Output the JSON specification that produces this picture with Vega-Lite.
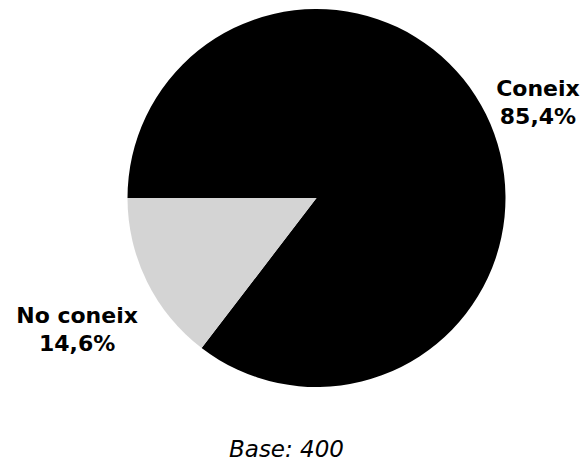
{
  "$schema": "https://vega.github.io/schema/vega-lite/v6.json",
  "autosize": {"type": "none"},
  "width": 535,
  "height": 396,
  "padding": {"left": 49, "top": 0, "right": 0, "bottom": 68},
  "background": "white",
  "config": {"view": {"stroke": null}},
  "title": {
    "text": "Base: 400",
    "orient": "bottom",
    "anchor": "middle",
    "font": "DejaVu Sans",
    "fontStyle": "italic",
    "fontWeight": "normal",
    "fontSize": 23,
    "color": "black",
    "baseline": "alphabetic",
    "offset": 61,
    "dx": -30
  },
  "data": {
    "values": [
      {"cat": "Coneix", "pct": 85.4, "label": "Coneix\n85,4%", "order": 1},
      {"cat": "No coneix", "pct": 14.6, "label": "No coneix\n14,6%", "order": 2}
    ]
  },
  "encoding": {
    "theta": {"field": "pct", "type": "quantitative", "stack": true, "scale": {"range": [-1.5707963, 4.712389]}},
    "order": {"field": "order", "type": "quantitative"}
  },
  "layer": [
    {
      "mark": {"type": "arc", "outerRadius": 189, "stroke": null},
      "encoding": {
        "color": {"field": "cat", "type": "nominal", "scale": {"domain": ["Coneix", "No coneix"], "range": ["#000000", "#d4d4d4"]}, "legend": null}
      }
    },
    {
      "mark": {"type": "text", "radius": 247, "font": "DejaVu Sans", "fontWeight": "bold", "fontSize": 22, "lineBreak": "\n", "lineHeight": 28, "align": "center", "baseline": "middle", "color": "black"},
      "encoding": {
        "text": {"condition": {"test": "datum.cat == 'Coneix'", "field": "label"}, "value": ""}
      }
    },
    {
      "mark": {"type": "text", "radius": 267, "font": "DejaVu Sans", "fontWeight": "bold", "fontSize": 22, "lineBreak": "\n", "lineHeight": 28, "align": "center", "baseline": "middle", "color": "black"},
      "encoding": {
        "text": {"condition": {"test": "datum.cat == 'No coneix'", "field": "label"}, "value": ""}
      }
    }
  ]
}
